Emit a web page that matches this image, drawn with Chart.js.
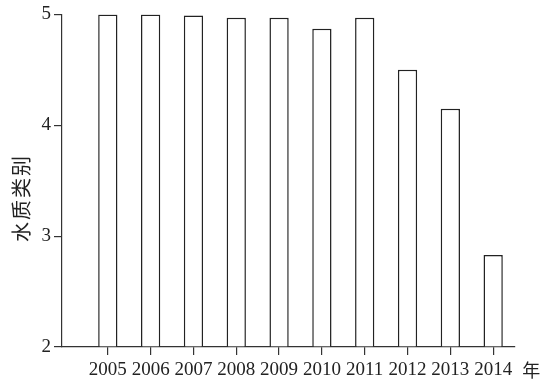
<!DOCTYPE html>
<html lang="zh-CN">
<head>
    <meta charset="UTF-8">
    <title>水质类别</title>
    <script src="https://cdn.jsdelivr.net/npm/chart.js"></script>
    <style>
        html, body { margin: 0; padding: 0; background: #fff; overflow: hidden; }
        canvas { display: block; }
    </style>
</head>
<body>
    <canvas id="myChart" width="548" height="381"></canvas>
<script>
    // dados
    var anos = [2005, 2006, 2007, 2008, 2009, 2010, 2011, 2012, 2013, 2014];
    var classes = [5.0, 5.0, 4.99, 4.97, 4.97, 4.87, 4.97, 4.5, 4.15, 2.83];
    var ticksY = [2, 3, 4, 5];
    var tituloY = '水质类别';
    var unidadeX = '年';

    var pontos = [];
    for (var i = 0; i < anos.length; i++) {
        pontos.push({ x: anos[i], y: classes[i] });
    }

    var fonte = { family: '"Liberation Serif", "Times New Roman", serif', size: 19 };

    // textos extras: titulo do eixo y e "年"
    const textos = {
        id: 'textos',
        afterDraw(chart) {
            const ctx = chart.ctx;
            const xs = chart.scales.x;
            ctx.save();
            ctx.fillStyle = '#222';
            ctx.font = '20px "Noto Sans CJK SC"';
            ctx.letterSpacing = '2px';
            ctx.textAlign = 'center';
            ctx.textBaseline = 'middle';
            ctx.translate(21, 198);
            ctx.rotate(-Math.PI / 2);
            ctx.fillText(tituloY, 0, 0);
            ctx.restore();

            ctx.save();
            ctx.fillStyle = '#222';
            ctx.font = '18px "Noto Sans CJK SC"';
            ctx.textAlign = 'left';
            ctx.textBaseline = 'middle';
            ctx.fillText(unidadeX, xs.getPixelForValue(anos[anos.length - 1]) + 29, 370);
            ctx.restore();
        }
    };

    const config = {
        type: 'bar',
        data: {
            datasets: [{
                data: pontos,
                base: 2,
                backgroundColor: '#fff',
                borderColor: '#222',
                borderWidth: 1.5,
                barPercentage: 0.45,
                categoryPercentage: 1
            }]
        },
        options: {
            responsive: false,
            animation: false,
            devicePixelRatio: 1,
            layout: { padding: { top: 11, right: 33, left: 0, bottom: 0 } },
            plugins: { legend: { display: false }, tooltip: { enabled: false } },
            scales: {
                x: {
                    type: 'linear',
                    offset: false,
                    min: 2003.93,
                    max: 2014.51,
                    afterBuildTicks: function (axis) {
                        axis.ticks = anos.map(function (a) { return { value: a }; });
                    },
                    afterFit: function (axis) { axis.height = 34; },
                    ticks: {
                        color: '#222',
                        font: fonte,
                        padding: 4,
                        maxRotation: 0,
                        autoSkip: false,
                        callback: function (v) { return String(v); }
                    },
                    grid: { offset: false, drawOnChartArea: false, tickLength: 8, color: '#333', lineWidth: 1.2 },
                    border: { color: '#333', width: 1.2 }
                },
                y: {
                    min: 2,
                    max: 5,
                    afterBuildTicks: function (axis) {
                        axis.ticks = ticksY.map(function (v) { return { value: v }; });
                    },
                    afterFit: function (axis) { axis.width = 62; },
                    ticks: { color: '#222', font: fonte, padding: 3 },
                    grid: { drawOnChartArea: false, tickLength: 8, color: '#333', lineWidth: 1.2 },
                    border: { color: '#333', width: 1.2 }
                }
            }
        },
        plugins: [textos]
    };

    let myChart = new Chart(document.getElementById('myChart').getContext('2d'), config);
</script>
</body>
</html>
